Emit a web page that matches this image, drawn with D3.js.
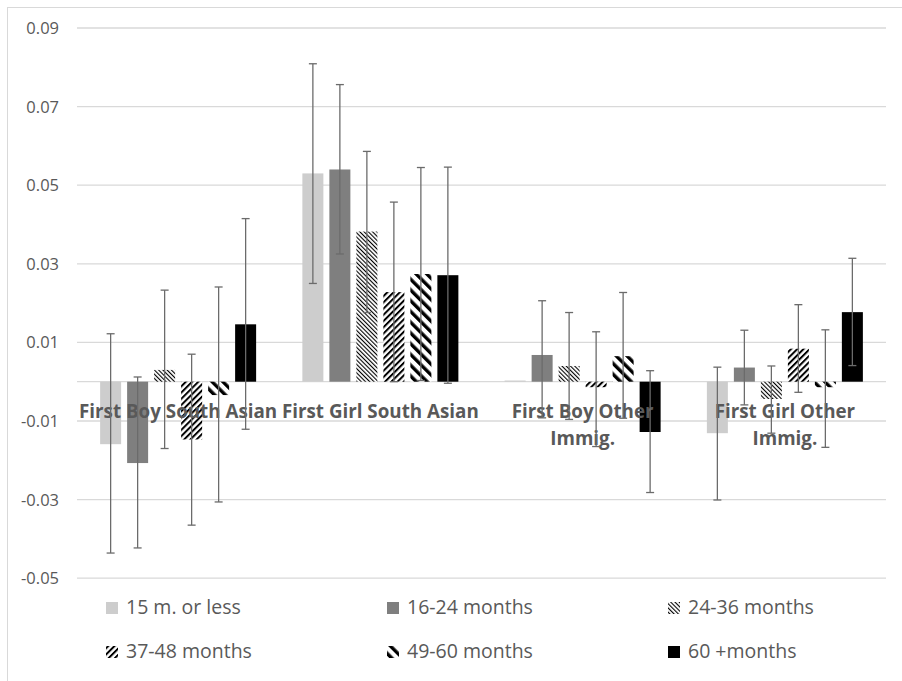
<!DOCTYPE html>
<html>
<head>
<meta charset="utf-8">
<script src="https://cdn.jsdelivr.net/npm/d3@7"></script>
<style>
  html, body { margin: 0; padding: 0; background: #fff; }
  svg { display: block; }
  text { font-family: "Open Sans", "Noto Sans", sans-serif; fill: #595959; }
</style>
</head>
<body>
<svg id="chart" width="902" height="681"></svg>
<script>
// ---- data ----
const categories = ["First Boy South Asian", "First Girl South Asian", "First Boy Other Immig.", "First Girl Other Immig."];
const seriesNames = ["15 m. or less", "16-24 months", "24-36 months", "37-48 months", "49-60 months", "60 +months"];

const val15orLess  = [-0.0159, 0.0530,  0.0003, -0.0131];
const val16to24    = [-0.0207, 0.0540,  0.0068,  0.0036];
const val24to36    = [ 0.0030, 0.0382,  0.0040, -0.0044];
const val37to48    = [-0.0147, 0.0228, -0.0014,  0.0084];
const val49to60    = [-0.0034, 0.0274,  0.0065, -0.0014];
const val60plus    = [ 0.0146, 0.0271, -0.0128,  0.0177];

const hi15orLess   = [ 0.0122, 0.0809, null,  0.0037];
const lo15orLess   = [-0.0436, 0.0250, null, -0.0301];
const hi16to24     = [ 0.0012, 0.0756,  0.0206,  0.0131];
const lo16to24     = [-0.0423, 0.0325, -0.0092, -0.0059];
const hi24to36     = [ 0.0233, 0.0586,  0.0176,  0.0040];
const lo24to36     = [-0.0170, 0.0176, -0.0096, -0.0131];
const hi37to48     = [ 0.0070, 0.0457,  0.0127,  0.0196];
const lo37to48     = [-0.0365, 0.0000, -0.0165, -0.0027];
const hi49to60     = [ 0.0241, 0.0545,  0.0227,  0.0132];
const lo49to60     = [-0.0306, 0.0003, -0.0093, -0.0167];
const hi60plus     = [ 0.0415, 0.0546,  0.0028,  0.0314];
const lo60plus     = [-0.0121, -0.0004, -0.0282,  0.0041];

const yTickValues = [-0.05, -0.03, -0.01, 0.01, 0.03, 0.05, 0.07, 0.09];
const yTickLabels = ["-0.05", "-0.03", "-0.01", "0.01", "0.03", "0.05", "0.07", "0.09"];

const seriesValues = [val15orLess, val16to24, val24to36, val37to48, val49to60, val60plus];
const seriesHi = [hi15orLess, hi16to24, hi24to36, hi37to48, hi49to60, hi60plus];
const seriesLo = [lo15orLess, lo16to24, lo24to36, lo37to48, lo49to60, lo60plus];

// ---- styles ----
const fills = ["#cdcdcd", "#7f7f7f", "url(#pat2436)", "url(#pat3748)", "url(#pat4960)", "#000000"];

const svg = d3.select("#chart");

// patterns
const defs = svg.append("defs");
function stripePattern(id, period, lineW, angle) {
  const p = defs.append("pattern")
    .attr("id", id)
    .attr("patternUnits", "userSpaceOnUse")
    .attr("width", period).attr("height", period)
    .attr("patternTransform", `rotate(${angle})`);
  p.append("rect").attr("width", period).attr("height", period).attr("fill", "#fff");
  p.append("rect").attr("x", 0).attr("y", 0).attr("width", lineW).attr("height", period).attr("fill", "#000");
}
stripePattern("pat2436", 3.0, 1.1, -45);
stripePattern("pat3748", 4.4, 2.0, 45);
stripePattern("pat4960", 7.6, 3.4, -45);

// chart border
svg.append("rect")
  .attr("x", 7.5).attr("y", 7.5)
  .attr("width", 1000).attr("height", 1000)
  .attr("fill", "none").attr("stroke", "#d9d9d9").attr("stroke-width", 1);

// scales
const y = d3.scaleLinear().domain([-0.05, 0.09]).range([578.2, 28]);
const x0 = d3.scaleBand().domain(categories).range([77, 886]).paddingInner(0).paddingOuter(0);
const x1 = d3.scaleBand().domain(seriesNames).range([-81, 81]).paddingInner(6 / 27).paddingOuter(3 / 27);

// gridlines
svg.append("g").selectAll("line").data(yTickValues).join("line")
  .attr("x1", 77).attr("x2", 886)
  .attr("y1", d => y(d)).attr("y2", d => y(d))
  .attr("stroke", "#d9d9d9").attr("stroke-width", 1.3);

// zero axis line
svg.append("line")
  .attr("x1", 77).attr("x2", 886)
  .attr("y1", y(0)).attr("y2", y(0))
  .attr("stroke", "#d9d9d9").attr("stroke-width", 1.3);

// y tick labels
svg.append("g").selectAll("text").data(yTickValues).join("text")
  .attr("x", 59).attr("y", d => y(d))
  .attr("dy", "0.36em")
  .attr("text-anchor", "end")
  .style("font-size", "16.5px")
  .text((d, i) => yTickLabels[i]);

// bars
const barData = [];
seriesNames.forEach((s, si) => {
  categories.forEach((c, ci) => {
    barData.push({ s, si, c, v: seriesValues[si][ci], hi: seriesHi[si][ci], lo: seriesLo[si][ci] });
  });
});

svg.append("g").selectAll("rect").data(barData).join("rect")
  .attr("x", d => x0(d.c) + x0.bandwidth() / 2 + x1(d.s))
  .attr("width", x1.bandwidth())
  .attr("y", d => Math.min(y(d.v), y(0)))
  .attr("height", d => Math.abs(y(d.v) - y(0)))
  .attr("fill", d => fills[d.si]);

// category labels (wrapped to band width)
const labelG = svg.append("g");
categories.forEach(c => {
  const t = labelG.append("text")
    .attr("text-anchor", "middle")
    .style("font-size", "18.8px")
    .style("font-weight", "bold")
    .attr("fill", "#595959");
  const cx = x0(c) + x0.bandwidth() / 2;
  const words = c.split(" ");
  let line = [];
  let lineNo = 0;
  let tspan = t.append("tspan").attr("x", cx).attr("y", 418);
  words.forEach(w => {
    line.push(w);
    tspan.text(line.join(" "));
    if (tspan.node().getComputedTextLength() > x0.bandwidth() && line.length > 1) {
      line.pop();
      tspan.text(line.join(" "));
      line = [w];
      lineNo++;
      tspan = t.append("tspan").attr("x", cx).attr("y", 418 + lineNo * 26.5).text(w);
    }
  });
});

// error bars
const eb = svg.append("g").attr("stroke", "#6b6b6b").attr("stroke-width", 1.3).attr("fill", "none");
barData.filter(d => d.hi !== null && d.lo !== null).forEach(d => {
  const cx = x0(d.c) + x0.bandwidth() / 2 + x1(d.s) + x1.bandwidth() / 2;
  eb.append("line").attr("x1", cx).attr("x2", cx).attr("y1", y(d.hi)).attr("y2", y(d.lo));
  eb.append("line").attr("x1", cx - 4).attr("x2", cx + 4).attr("y1", y(d.hi)).attr("y2", y(d.hi));
  eb.append("line").attr("x1", cx - 4).attr("x2", cx + 4).attr("y1", y(d.lo)).attr("y2", y(d.lo));
});

// legend
const legendCols = [106, 387, 668];
const legendRows = [614, 658];
const lg = svg.append("g");
seriesNames.forEach((s, i) => {
  const lx = legendCols[i % 3];
  const ly = legendRows[Math.floor(i / 3)];
  lg.append("rect")
    .attr("x", lx).attr("y", ly - 12)
    .attr("width", 12).attr("height", 12)
    .attr("fill", fills[i]);
  lg.append("text")
    .attr("x", lx + 20).attr("y", ly)
    .style("font-size", "19.5px")
    .text(s);
});
</script>
</body>
</html>
